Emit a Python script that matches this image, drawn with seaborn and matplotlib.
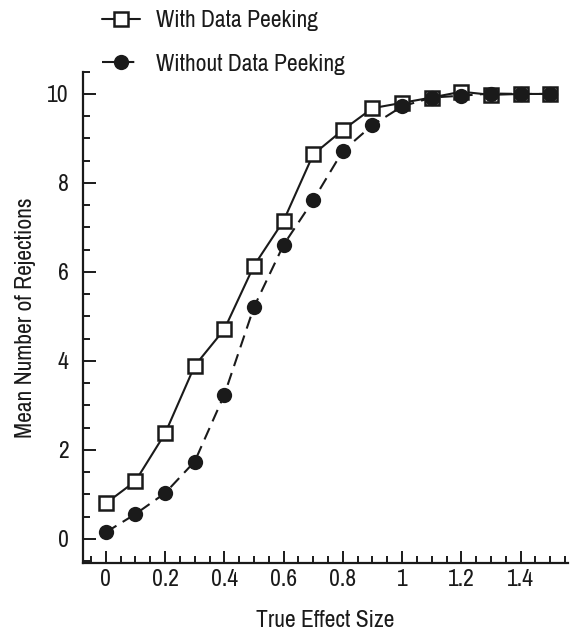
import numpy as np
import pandas as pd
import matplotlib
matplotlib.use("Agg")
import matplotlib.pyplot as plt
import seaborn as sns
from matplotlib.ticker import MultipleLocator
from matplotlib import font_manager

effect = [0.0, 0.1, 0.2, 0.3, 0.4, 0.5, 0.6, 0.7, 0.8, 0.9, 1.0, 1.1, 1.2, 1.3, 1.4, 1.5]
with_peek = [0.80, 1.30, 2.37, 3.89, 4.71, 6.14, 7.15, 8.64, 9.19, 9.68, 9.80, 9.92, 10.05, 9.98, 10.0, 10.0]
without_peek = [0.15, 0.56, 1.03, 1.74, 3.24, 5.21, 6.61, 7.61, 8.72, 9.30, 9.72, 9.92, 9.96, 10.01, 10.0, 10.0]
labels = ["With Data Peeking", "Without Data Peeking"]
xticks = [0, 0.2, 0.4, 0.6, 0.8, 1, 1.2, 1.4]
xticklabels = ["0", "0.2", "0.4", "0.6", "0.8", "1", "1.2", "1.4"]
yticks = [0, 2, 4, 6, 8, 10]

df = pd.DataFrame({
    "x": effect * 2,
    "y": with_peek + without_peek,
    "cond": [labels[0]] * len(effect) + [labels[1]] * len(effect),
})

sns.set_style("ticks")
names = sorted({f.name for f in font_manager.fontManager.ttflist})
narrow = [n for n in names if "Narrow" in n or "Condensed" in n]
fam = narrow[0] if narrow else "Liberation Sans"
plt.rcParams["font.family"] = [fam, "DejaVu Sans"]
fs = 17 if narrow else 14.5

ink = "#1a1a1a"
fig = plt.figure(figsize=(5.7, 6.3), dpi=100)
ax = fig.add_axes([82.7/570, 1 - 563/630, (568-82.7)/570, (563-71.7)/630])

d1 = df[df.cond == labels[0]]
d2 = df[df.cond == labels[1]]
sns.lineplot(data=d1, x="x", y="y", ax=ax, color=ink, linewidth=1.5,
             marker="s", markersize=9.5, markerfacecolor="white",
             markeredgecolor=ink, markeredgewidth=1.8, label=labels[0])
sns.lineplot(data=d2, x="x", y="y", ax=ax, color=ink, linewidth=1.5,
             marker="o", markersize=11, markerfacecolor=ink,
             markeredgecolor=ink, markeredgewidth=0, label=labels[1])
ax.lines[1].set_dashes([6, 3.5])

ax.set_xlim(-0.078, 1.56)
ax.set_ylim(-0.54, 10.5)
ax.set_xticks(xticks)
ax.set_xticklabels(xticklabels)
ax.set_yticks(yticks)
ax.xaxis.set_minor_locator(MultipleLocator(0.05))
ax.yaxis.set_minor_locator(MultipleLocator(0.5))
ax.tick_params(axis="both", which="major", direction="in", length=9, width=1.4,
               labelsize=fs, color=ink, labelcolor=ink)
ax.tick_params(axis="x", which="major", pad=4)
ax.tick_params(axis="y", which="major", pad=10)
ax.tick_params(axis="both", which="minor", direction="in", length=5, width=1.4,
               color=ink)
for s in ["top", "right"]:
    ax.spines[s].set_visible(False)
for s in ["left", "bottom"]:
    ax.spines[s].set_linewidth(1.6)
    ax.spines[s].set_color(ink)

ax.set_xlabel("True Effect Size", fontsize=fs, color=ink, labelpad=15)
ax.set_ylabel("Mean Number of Rejections", fontsize=fs, color=ink, labelpad=8)

leg = ax.legend(loc="upper left", bbox_to_anchor=(88/570, 1.0 + 4/630), bbox_transform=fig.transFigure,
                frameon=False, fontsize=fs, handlelength=1.6, handletextpad=0.7,
                labelspacing=0.95, labelcolor=ink, borderaxespad=0.2)

fig.savefig("out.png", dpi=100)
